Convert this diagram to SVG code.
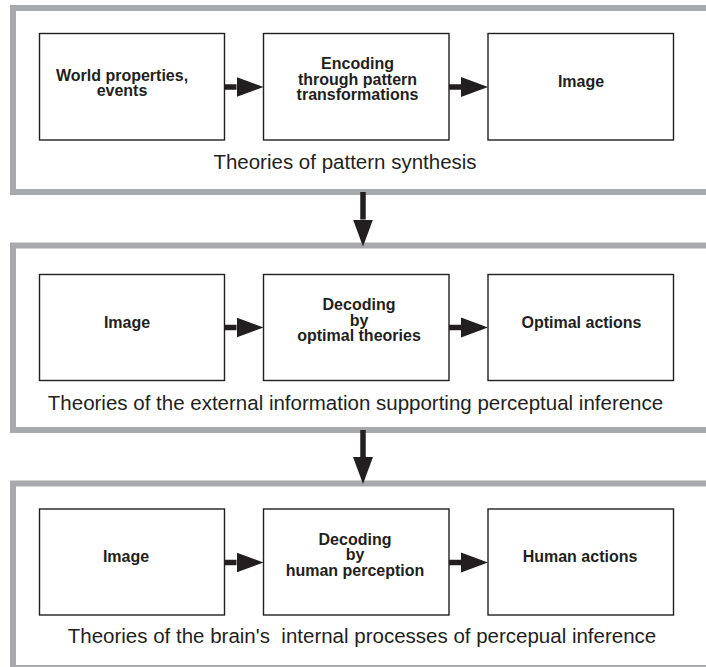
<svg xmlns="http://www.w3.org/2000/svg" width="706" height="667" viewBox="0 0 706 667">
<defs>
<style>
.panel{fill:none;stroke:#a7a9ac;stroke-width:6}
.box{fill:#ffffff;stroke:#231f20;stroke-width:1.4}
.lbl{font-family:"Liberation Sans",Arial,Helvetica,sans-serif;font-weight:bold;font-size:16px;fill:#231f20;text-anchor:middle}
.cap{font-family:"Liberation Sans",Arial,Helvetica,sans-serif;font-size:20.5px;fill:#231f20;text-anchor:middle;white-space:pre}
.conn{stroke:#231f20;stroke-width:5.5;fill:none;marker-end:url(#head)}
</style>
<marker id="head" markerUnits="userSpaceOnUse" markerWidth="28" markerHeight="22" viewBox="0 -11 28 22" refX="0" refY="0" orient="auto">
<path d="M0,-10 L27,0 L0,10 Z" fill="#231f20"/>
</marker>
</defs>
<rect width="706" height="667" fill="#ffffff"/>

<g id="panel1">
<rect class="panel" x="13" y="8" width="710" height="184"/>
<text class="cap" x="345" y="169">Theories of pattern synthesis</text>
</g>
<g id="panel2">
<rect class="panel" x="13" y="245.5" width="710" height="184.5"/>
<text class="cap" x="355.5" y="409.5">Theories of the external information supporting perceptual inference</text>
</g>
<g id="panel3">
<rect class="panel" x="13" y="483.5" width="710" height="184.5"/>
<text class="cap" x="362" y="643" xml:space="preserve">Theories of the brain's  internal processes of percepual inference</text>
</g>

<g id="p1-world">
<rect class="box" x="39.5" y="33.5" width="185" height="106.5"/>
<text class="lbl" x="122" y="80.5">World properties,</text>
<text class="lbl" x="122" y="96">events</text>
</g>
<g id="p1-encoding">
<rect class="box" x="263.5" y="33.5" width="185.5" height="106.5"/>
<text class="lbl" x="357.5" y="69">Encoding</text>
<text class="lbl" x="357.5" y="84.5">through pattern</text>
<text class="lbl" x="357.5" y="100">transformations</text>
</g>
<g id="p1-image">
<rect class="box" x="488" y="33.5" width="185.5" height="106.5"/>
<text class="lbl" x="581" y="86.5">Image</text>
</g>

<g id="p2-image">
<rect class="box" x="39.5" y="274.5" width="185" height="106"/>
<text class="lbl" x="127" y="327.5">Image</text>
</g>
<g id="p2-decoding">
<rect class="box" x="263.5" y="274.5" width="185.5" height="106"/>
<text class="lbl" x="359" y="310">Decoding</text>
<text class="lbl" x="359" y="325.5">by</text>
<text class="lbl" x="359" y="341">optimal theories</text>
</g>
<g id="p2-optimal">
<rect class="box" x="488" y="274.5" width="185.5" height="106"/>
<text class="lbl" x="581.5" y="327.5">Optimal actions</text>
</g>

<g id="p3-image">
<rect class="box" x="39.5" y="509" width="185" height="106"/>
<text class="lbl" x="126" y="562">Image</text>
</g>
<g id="p3-decoding">
<rect class="box" x="263.5" y="509" width="185.5" height="106"/>
<text class="lbl" x="355" y="544.5">Decoding</text>
<text class="lbl" x="355" y="560">by</text>
<text class="lbl" x="355" y="575.5">human perception</text>
</g>
<g id="p3-human">
<rect class="box" x="488" y="509" width="185.5" height="106"/>
<text class="lbl" x="580" y="562">Human actions</text>
</g>

<g id="connectors">
<line class="conn" x1="224.5" y1="87" x2="236.5" y2="87"/>
<line class="conn" x1="449" y1="87" x2="461" y2="87"/>
<line class="conn" x1="224.5" y1="327.5" x2="236.5" y2="327.5"/>
<line class="conn" x1="449" y1="327.5" x2="461" y2="327.5"/>
<line class="conn" x1="224.5" y1="562.5" x2="236.5" y2="562.5"/>
<line class="conn" x1="449" y1="562.5" x2="461" y2="562.5"/>
<line class="conn" x1="363" y1="192" x2="363" y2="219.5"/>
<line class="conn" x1="363" y1="430" x2="363" y2="457"/>
</g>
</svg>
